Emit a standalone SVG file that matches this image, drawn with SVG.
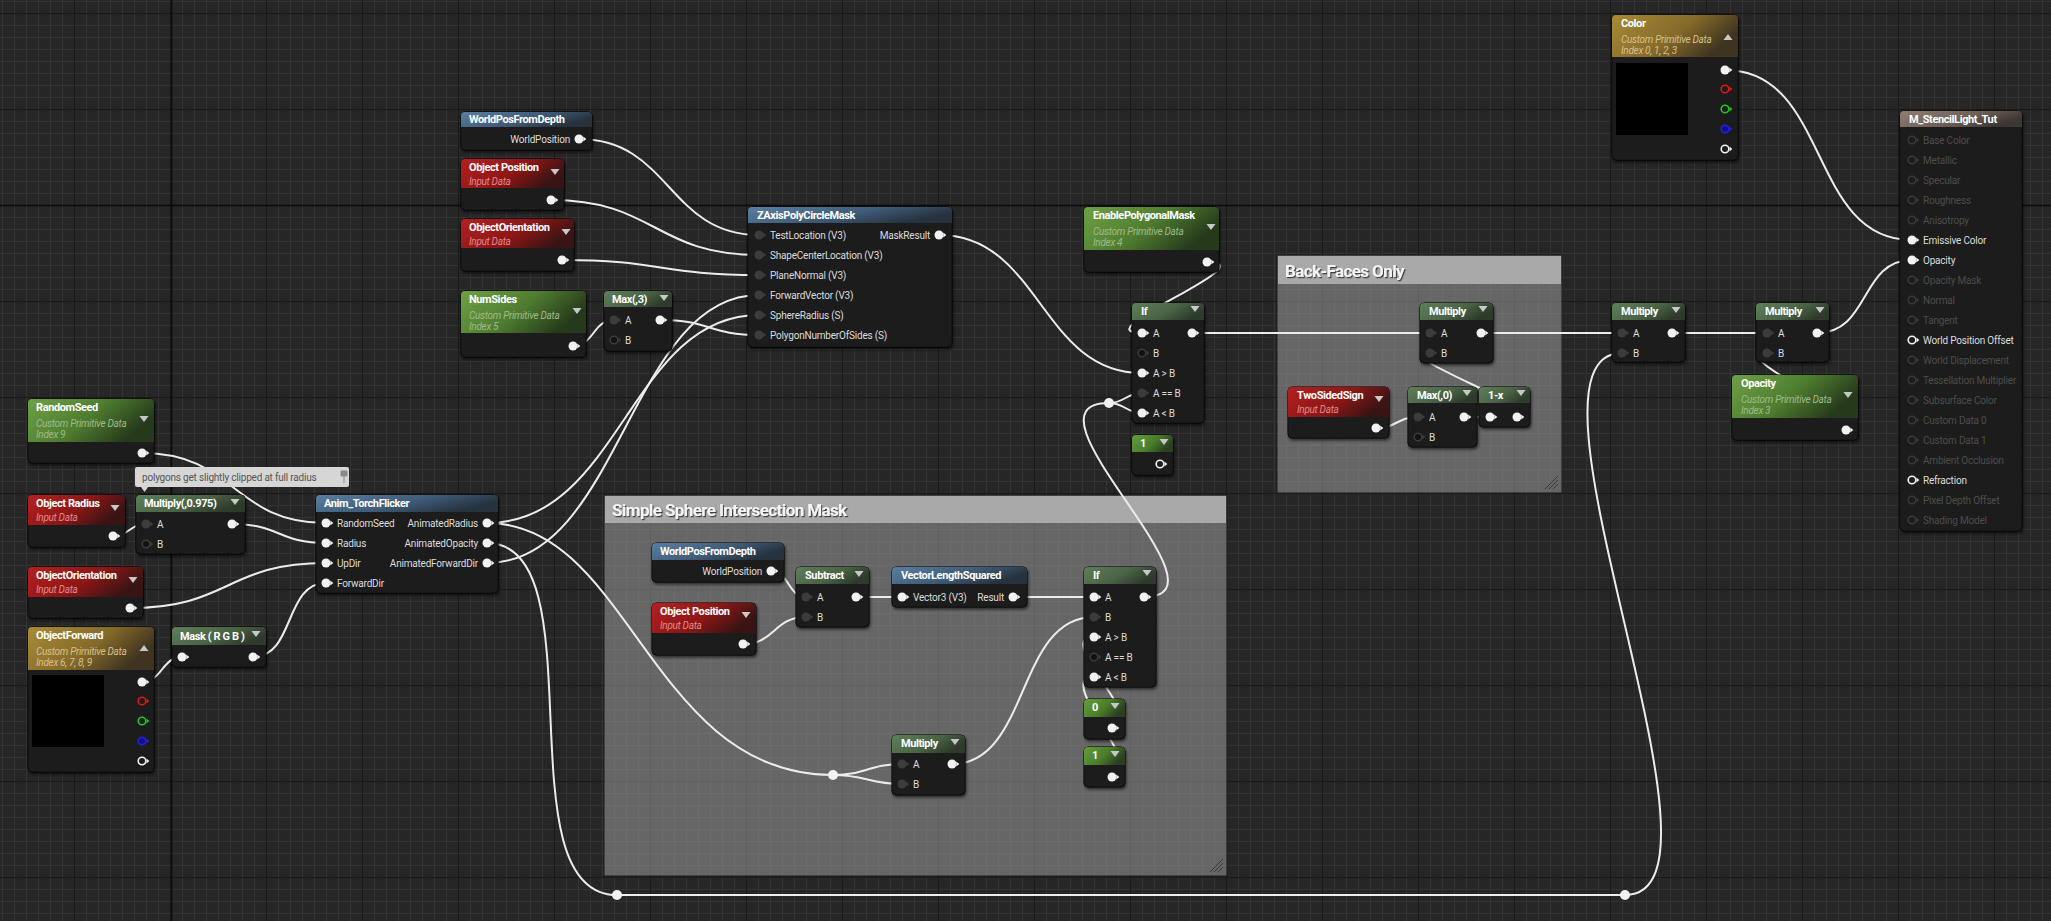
<svg xmlns="http://www.w3.org/2000/svg" xmlns:xlink="http://www.w3.org/1999/xlink" width="2051" height="921" viewBox="0 0 2051 921">
<defs>
<style>
.b{fill:#1b1b1b;stroke:#0a0a0a;stroke-width:1;filter:url(#ds)}
.t{font-family:Roboto,"Liberation Sans",sans-serif;font-size:11px;font-weight:bold;fill:#fff;letter-spacing:-0.4px}
.s{font-family:Roboto,"Liberation Sans",sans-serif;font-size:10px;font-style:italic;letter-spacing:-0.3px}
.sg{fill:#9fbb88}.sr{fill:#e08a8a}.sy{fill:#d8c088}
.l{font-family:Roboto,"Liberation Sans",sans-serif;font-size:10px;fill:#dcdcdc;letter-spacing:-0.2px}
.e{text-anchor:end}
.dim{fill:#4d4d4d}
.ct{font-family:Roboto,"Liberation Sans",sans-serif;font-size:17px;font-weight:bold;fill:#f4f4f4;letter-spacing:-0.6px;filter:url(#ts)}
.hp{fill:url(#gParam)}.hm{fill:url(#gMath)}.hc{fill:url(#gConst)}.hr{fill:url(#gRed)}.hb{fill:url(#gBlue)}.hy{fill:url(#gYel)}.hres{fill:url(#gRes)}
.cm{fill:#9a9a9a;fill-opacity:0.55;stroke:#1a1a1a;stroke-width:1}
.cmh{fill:#a9a9a9}
.knot{fill:#f2f2f2}
</style>
<filter id="ds" x="-10%" y="-10%" width="130%" height="140%"><feDropShadow dx="1" dy="2" stdDeviation="1.5" flood-color="#000" flood-opacity="0.6"/></filter>
<filter id="ts" x="-5%" y="-20%" width="115%" height="160%"><feDropShadow dx="1.2" dy="1.2" stdDeviation="0.6" flood-color="#222" flood-opacity="0.8"/></filter>
<pattern id="gMinor" width="12" height="12" patternUnits="userSpaceOnUse" x="2" y="1"><path d="M0,0.5H12M0.5,0V12" stroke="#333333" stroke-width="1"/></pattern>
<pattern id="gMajor" width="96" height="96" patternUnits="userSpaceOnUse" x="74" y="13"><path d="M0,0.5H96M0.5,0V96" stroke="#1a1a1a" stroke-width="1"/></pattern>
<linearGradient id="gParam" x1="0" y1="0" x2="1" y2="0.4"><stop offset="0" stop-color="#6fa045"/><stop offset="0.55" stop-color="#4f7d30"/><stop offset="1" stop-color="#263a1b"/></linearGradient>
<linearGradient id="gMath" x1="0" y1="0" x2="1" y2="0.4"><stop offset="0" stop-color="#5e7e58"/><stop offset="0.6" stop-color="#4a6446"/><stop offset="1" stop-color="#2e3b2c"/></linearGradient>
<linearGradient id="gConst" x1="0" y1="0" x2="1" y2="0.4"><stop offset="0" stop-color="#62a03a"/><stop offset="0.6" stop-color="#4a7c2b"/><stop offset="1" stop-color="#2a4020"/></linearGradient>
<linearGradient id="gRed" x1="0" y1="0" x2="1" y2="0.4"><stop offset="0" stop-color="#b52020"/><stop offset="0.6" stop-color="#8c1616"/><stop offset="1" stop-color="#3a1414"/></linearGradient>
<linearGradient id="gBlue" x1="0" y1="0" x2="1" y2="0.4"><stop offset="0" stop-color="#5a7fa2"/><stop offset="0.6" stop-color="#3e5a76"/><stop offset="1" stop-color="#26323e"/></linearGradient>
<linearGradient id="gYel" x1="0" y1="0" x2="1" y2="0.4"><stop offset="0" stop-color="#a98b36"/><stop offset="0.6" stop-color="#84692a"/><stop offset="1" stop-color="#3f3420"/></linearGradient>
<linearGradient id="gRes" x1="0" y1="0" x2="1" y2="0.4"><stop offset="0" stop-color="#8e7e74"/><stop offset="0.6" stop-color="#6e6058"/><stop offset="1" stop-color="#3e3632"/></linearGradient>
<g id="pw"><circle r="4.5" fill="#f2f2f2"/><path d="M4.3,-2.5L7.3,0L4.3,2.5Z" fill="#f2f2f2"/></g>
<g id="pk"><circle r="4.5" fill="#3c3c3c"/><path d="M4.3,-2.5L7.3,0L4.3,2.5Z" fill="#3c3c3c"/></g>
<g id="po"><circle r="3.8" fill="#111" stroke="#3c3c3c" stroke-width="1.5"/><path d="M4.5,-2.5L7.3,0L4.5,2.5Z" fill="#3c3c3c"/></g>
<g id="ph"><circle r="3.8" fill="none" stroke="#f2f2f2" stroke-width="1.6"/><path d="M4.5,-2.5L7.3,0L4.5,2.5Z" fill="#f2f2f2"/></g>
<g id="pm"><circle r="3.8" fill="none" stroke="#3a3a3a" stroke-width="1.5"/><path d="M4.5,-2.5L7.3,0L4.5,2.5Z" fill="#3a3a3a"/></g>
<g id="pR"><circle r="3.8" fill="none" stroke="#e01818" stroke-width="1.6"/><path d="M4.5,-2.5L7.3,0L4.5,2.5Z" fill="#e01818"/></g>
<g id="pG"><circle r="3.8" fill="none" stroke="#20c820" stroke-width="1.6"/><path d="M4.5,-2.5L7.3,0L4.5,2.5Z" fill="#20c820"/></g>
<g id="pB"><circle r="3.8" fill="#10108a" stroke="#2222d8" stroke-width="1.6"/><path d="M4.5,-2.5L7.3,0L4.5,2.5Z" fill="#2222d8"/></g>
<path id="dd" d="M0,0H9L4.5,6Z" fill="#c8c8c8"/>
<path id="du" d="M0,6H9L4.5,0Z" fill="#c8c8c8"/>
</defs>

<rect width="2051" height="921" fill="#262626"/>
<rect width="2051" height="921" fill="url(#gMinor)"/>
<rect width="2051" height="921" fill="url(#gMajor)"/>
<path d="M171.5,0V921M0,205.5H2051" stroke="#0b0b0b" stroke-width="1.5"/>

<g id="comment-sphere">
<rect class="cm" x="604" y="495" width="623" height="381"/>
<rect class="cmh" x="605" y="496" width="621" height="27"/>
<text class="ct" x="612" y="516">Simple Sphere Intersection Mask</text>
<path d="M1214,872L1223,863M1218,872L1223,867M1210,872L1223,859" stroke="#3a3a3a" stroke-width="1"/>
</g>
<g id="comment-backfaces">
<rect class="cm" x="1277" y="255" width="285" height="238"/>
<rect class="cmh" x="1278" y="256" width="283" height="28"/>
<text class="ct" x="1285" y="277">Back-Faces Only</text>
<path d="M1549,489L1558,480M1553,489L1558,484M1545,489L1558,476" stroke="#3a3a3a" stroke-width="1"/>
</g>

<g id="connectors" fill="none" stroke="#ececec" stroke-width="2">
<path d="M579,139 C670,139 668,235 759,235"/>
<path d="M551,200 C655,200 655,255 759,255"/>
<path d="M562,260 C660,260 661,275 759,275"/>
<path d="M573,346 C594,346 593,320 614,320"/>
<path d="M660,320 C710,320 709,335 759,335"/>
<path d="M487,523 C620,523 630,315 759,315"/>
<path d="M487,563 C620,563 630,295 759,295"/>
<path d="M487,523 C630,523 650,775 833,775"/>
<path d="M487,543 C600,543 500,895 617,895"/>
<path d="M617,895 H1625"/>
<path d="M1625,895 C1750,895 1500,353 1622,353"/>
<path d="M142,453 C235,453 233,523 326,523"/>
<path d="M113,536 C129,536 130,524 146,524"/>
<path d="M232,524 C280,524 278,543 326,543"/>
<path d="M130,608 C230,608 226,563 326,563"/>
<path d="M142,682 C162,682 162,657 182,657"/>
<path d="M253,657 C295,657 284,583 326,583"/>
<path d="M771,571 C789,571 788,597 806,597"/>
<path d="M743,644 C775,644 774,617 806,617"/>
<path d="M856,597 H902"/>
<path d="M1013,597 H1094"/>
<path d="M833,775 C866,775 869,764 902,764"/>
<path d="M833,775 C866,775 869,784 902,784"/>
<path d="M952,764 C1030,764 1016,617 1094,617"/>
<path d="M1112,728 C1155,728 1051,637 1094,637"/>
<path d="M1112,777 C1155,777 1051,677 1094,677"/>
<path d="M1144,597 C1240,597 1010,403 1109,403"/>
<path d="M1109,403 C1125,403 1126,393 1142,393"/>
<path d="M1109,403 C1125,403 1126,413 1142,413"/>
<path d="M939,235 C1040,235 1041,373 1142,373"/>
<path d="M1207,262 C1270,262 1080,333 1142,333"/>
<path d="M1192,333 H1430"/>
<path d="M1481,333 H1622"/>
<path d="M1672,333 H1767"/>
<path d="M1817,333 C1870,333 1860,260 1912,260"/>
<path d="M1725,70 C1830,70 1808,240 1912,240"/>
<path d="M1846,430 C1895,430 1718,353 1767,353"/>
<path d="M1376,428 C1397,428 1397,417 1418,417"/>
<path d="M1464,417 H1490"/>
<path d="M1517,417 C1565,417 1382,353 1430,353"/>
</g>

<g id="knot-bottom-left"><circle class="knot" cx="617" cy="895" r="5"/></g>
<g id="knot-bottom-right"><circle class="knot" cx="1625" cy="895" r="5"/></g>
<g id="knot-sphere"><circle class="knot" cx="833" cy="775" r="5"/></g>
<g id="knot-if"><circle class="knot" cx="1109" cy="403" r="5"/></g>

<g id="n-randomseed">
<rect class="b" x="28" y="399" width="126" height="64" rx="4"/>
<path class="hp" d="M28,442V403a4,4 0 0 1 4,-4H150a4,4 0 0 1 4,4V442Z"/>
<text class="t" x="36" y="411">RandomSeed</text>
<text class="s sg" x="36" y="427">Custom Primitive Data</text>
<text class="s sg" x="36" y="438">Index 9</text>
<use href="#dd" x="139.5" y="416"/>
<use href="#pw" x="142" y="453"/>
</g>

<g id="comment-bubble">
<rect x="135" y="467" width="214" height="20" rx="2" fill="#d6d6d6"/>
<path d="M141,487H148L144.5,492Z" fill="#d6d6d6"/>
<text x="142" y="481" font-family="Roboto, 'Liberation Sans', sans-serif" font-size="10" fill="#555" letter-spacing="-0.2">polygons get slightly clipped at full radius</text>
<path d="M341,471h6v5h-6z M344,476v7" fill="#8a8a8a" stroke="#8a8a8a" stroke-width="1"/>
</g>

<g id="n-objectradius">
<rect class="b" x="28" y="495" width="97" height="52" rx="4"/>
<path class="hr" d="M28,525V499a4,4 0 0 1 4,-4H121a4,4 0 0 1 4,4V525Z"/>
<text class="t" x="36" y="507">Object Radius</text>
<text class="s sr" x="36" y="521">Input Data</text>
<use href="#dd" x="110.5" y="505"/>
<use href="#pw" x="113" y="536"/>
</g>

<g id="n-multiply0975">
<rect class="b" x="136" y="495" width="109" height="59" rx="4"/>
<path class="hm" d="M136,512V499a4,4 0 0 1 4,-4H241a4,4 0 0 1 4,4V512Z"/>
<text class="t" x="144" y="507">Multiply(,0.975)</text>
<use href="#dd" x="230.5" y="499"/>
<use href="#pk" x="146" y="524"/><text class="l" x="157" y="527.5">A</text>
<use href="#po" x="146" y="544"/><text class="l" x="157" y="547.5">B</text>
<use href="#pw" x="232" y="524"/>
</g>

<g id="n-animtorchflicker">
<rect class="b" x="316" y="495" width="182" height="98" rx="4"/>
<path class="hb" d="M316,512V499a4,4 0 0 1 4,-4H494a4,4 0 0 1 4,4V512Z"/>
<text class="t" x="324" y="507">Anim_TorchFlicker</text>
<use href="#pw" x="326" y="523"/><text class="l" x="337" y="526.5">RandomSeed</text>
<use href="#pw" x="326" y="543"/><text class="l" x="337" y="546.5">Radius</text>
<use href="#pw" x="326" y="563"/><text class="l" x="337" y="566.5">UpDir</text>
<use href="#pw" x="326" y="583"/><text class="l" x="337" y="586.5">ForwardDir</text>
<text class="l e" x="478" y="526.5">AnimatedRadius</text><use href="#pw" x="487" y="523"/>
<text class="l e" x="478" y="546.5">AnimatedOpacity</text><use href="#pw" x="487" y="543"/>
<text class="l e" x="478" y="566.5">AnimatedForwardDir</text><use href="#pw" x="487" y="563"/>
</g>

<g id="n-objectorientation-left">
<rect class="b" x="28" y="567" width="115" height="51" rx="4"/>
<path class="hr" d="M28,597V571a4,4 0 0 1 4,-4H139a4,4 0 0 1 4,4V597Z"/>
<text class="t" x="36" y="579">ObjectOrientation</text>
<text class="s sr" x="36" y="593">Input Data</text>
<use href="#dd" x="128.5" y="577"/>
<use href="#pw" x="130" y="608"/>
</g>

<g id="n-objectforward">
<rect class="b" x="28" y="627" width="126" height="145" rx="4"/>
<path class="hy" d="M28,670V631a4,4 0 0 1 4,-4H150a4,4 0 0 1 4,4V670Z"/>
<text class="t" x="36" y="639">ObjectForward</text>
<text class="s sy" x="36" y="655">Custom Primitive Data</text>
<text class="s sy" x="36" y="666">Index 6, 7, 8, 9</text>
<use href="#du" x="139.5" y="645"/>
<rect x="32" y="675" width="72" height="72" fill="#000"/>
<use href="#pw" x="142" y="682"/>
<use href="#pR" x="142" y="701"/>
<use href="#pG" x="142" y="721"/>
<use href="#pB" x="142" y="741"/>
<use href="#ph" x="142" y="761"/>
</g>

<g id="n-mask">
<rect class="b" x="172" y="627" width="94" height="40" rx="4"/>
<path class="hm" d="M172,645V631a4,4 0 0 1 4,-4H262a4,4 0 0 1 4,4V645Z"/>
<text class="t" x="180" y="640">Mask ( R G B )</text>
<use href="#dd" x="251.5" y="631"/>
<use href="#pw" x="182" y="657"/>
<use href="#pw" x="253" y="657"/>
</g>

<g id="n-worldposfromdepth-top">
<rect class="b" x="461" y="112" width="131" height="38" rx="4"/>
<path class="hb" d="M461,127V116a4,4 0 0 1 4,-4H588a4,4 0 0 1 4,4V127Z"/>
<text class="t" x="469" y="123">WorldPosFromDepth</text>
<text class="l e" x="570" y="142.5">WorldPosition</text><use href="#pw" x="579" y="139"/>
</g>

<g id="n-objectposition-top">
<rect class="b" x="461" y="159" width="103" height="51" rx="4"/>
<path class="hr" d="M461,188V163a4,4 0 0 1 4,-4H560a4,4 0 0 1 4,4V188Z"/>
<text class="t" x="469" y="171">Object Position</text>
<text class="s sr" x="469" y="185">Input Data</text>
<use href="#dd" x="550.5" y="169"/>
<use href="#pw" x="551" y="200"/>
</g>

<g id="n-objectorientation-top">
<rect class="b" x="461" y="219" width="113" height="52" rx="4"/>
<path class="hr" d="M461,248V223a4,4 0 0 1 4,-4H570a4,4 0 0 1 4,4V248Z"/>
<text class="t" x="469" y="231">ObjectOrientation</text>
<text class="s sr" x="469" y="245">Input Data</text>
<use href="#dd" x="561.5" y="229"/>
<use href="#pw" x="562" y="260"/>
</g>

<g id="n-numsides">
<rect class="b" x="461" y="291" width="125" height="66" rx="4"/>
<path class="hp" d="M461,333V295a4,4 0 0 1 4,-4H582a4,4 0 0 1 4,4V333Z"/>
<text class="t" x="469" y="303">NumSides</text>
<text class="s sg" x="469" y="319">Custom Primitive Data</text>
<text class="s sg" x="469" y="330">Index 5</text>
<use href="#dd" x="572.5" y="308"/>
<use href="#pw" x="573" y="346"/>
</g>

<g id="n-max3">
<rect class="b" x="604" y="291" width="68" height="60" rx="4"/>
<path class="hm" d="M604,307V295a4,4 0 0 1 4,-4H668a4,4 0 0 1 4,4V307Z"/>
<text class="t" x="612" y="303">Max(,3)</text>
<use href="#dd" x="659.5" y="295"/>
<use href="#pk" x="614" y="320"/><text class="l" x="625" y="323.5">A</text>
<use href="#po" x="614" y="340"/><text class="l" x="625" y="343.5">B</text>
<use href="#pw" x="660" y="320"/>
</g>

<g id="n-zaxispolycirclemask">
<rect class="b" x="748" y="207" width="204" height="140" rx="4"/>
<path class="hb" d="M748,223V211a4,4 0 0 1 4,-4H948a4,4 0 0 1 4,4V223Z"/>
<text class="t" x="757" y="219">ZAxisPolyCircleMask</text>
<use href="#pk" x="759" y="235"/><text class="l" x="770" y="238.5">TestLocation (V3)</text>
<use href="#pk" x="759" y="255"/><text class="l" x="770" y="258.5">ShapeCenterLocation (V3)</text>
<use href="#pk" x="759" y="275"/><text class="l" x="770" y="278.5">PlaneNormal (V3)</text>
<use href="#pk" x="759" y="295"/><text class="l" x="770" y="298.5">ForwardVector (V3)</text>
<use href="#pk" x="759" y="315"/><text class="l" x="770" y="318.5">SphereRadius (S)</text>
<use href="#pk" x="759" y="335"/><text class="l" x="770" y="338.5">PolygonNumberOfSides (S)</text>
<text class="l e" x="930" y="238.5">MaskResult</text><use href="#pw" x="939" y="235"/>
</g>

<g id="n-enablepolygonalmask">
<rect class="b" x="1084" y="207" width="135" height="65" rx="4"/>
<path class="hp" d="M1084,250V211a4,4 0 0 1 4,-4H1215a4,4 0 0 1 4,4V250Z"/>
<text class="t" x="1093" y="219">EnablePolygonalMask</text>
<text class="s sg" x="1093" y="235">Custom Primitive Data</text>
<text class="s sg" x="1093" y="246">Index 4</text>
<use href="#dd" x="1206.5" y="224"/>
<use href="#pw" x="1207" y="262"/>
</g>

<g id="n-if-outer">
<rect class="b" x="1132" y="303" width="72" height="120" rx="4"/>
<path class="hm" d="M1132,320V307a4,4 0 0 1 4,-4H1200a4,4 0 0 1 4,4V320Z"/>
<text class="t" x="1141" y="315">If</text>
<use href="#dd" x="1190.5" y="306"/>
<use href="#pw" x="1142" y="333"/><text class="l" x="1153" y="336.5">A</text>
<use href="#po" x="1142" y="353"/><text class="l" x="1153" y="356.5">B</text>
<use href="#pw" x="1142" y="373"/><text class="l" x="1153" y="376.5">A &gt; B</text>
<use href="#pk" x="1142" y="393"/><text class="l" x="1153" y="396.5">A == B</text>
<use href="#pw" x="1142" y="413"/><text class="l" x="1153" y="416.5">A &lt; B</text>
<use href="#pw" x="1192" y="333"/>
</g>

<g id="n-const1-outer">
<rect class="b" x="1132" y="435" width="41" height="40" rx="4"/>
<path class="hc" d="M1132,452V439a4,4 0 0 1 4,-4H1169a4,4 0 0 1 4,4V452Z"/>
<text class="t" x="1140" y="447">1</text>
<use href="#dd" x="1159.5" y="439"/>
<use href="#ph" x="1160" y="464"/>
</g>

<g id="n-multiply-back">
<rect class="b" x="1420" y="303" width="73" height="60" rx="4"/>
<path class="hm" d="M1420,320V307a4,4 0 0 1 4,-4H1489a4,4 0 0 1 4,4V320Z"/>
<text class="t" x="1429" y="315">Multiply</text>
<use href="#dd" x="1478.5" y="306"/>
<use href="#pk" x="1430" y="333"/><text class="l" x="1441" y="336.5">A</text>
<use href="#pk" x="1430" y="353"/><text class="l" x="1441" y="356.5">B</text>
<use href="#pw" x="1481" y="333"/>
</g>

<g id="n-twosidedsign">
<rect class="b" x="1288" y="387" width="101" height="51" rx="4"/>
<path class="hr" d="M1288,417V391a4,4 0 0 1 4,-4H1385a4,4 0 0 1 4,4V417Z"/>
<text class="t" x="1297" y="399">TwoSidedSign</text>
<text class="s sr" x="1297" y="413">Input Data</text>
<use href="#dd" x="1374.5" y="396"/>
<use href="#pw" x="1376" y="428"/>
</g>

<g id="n-max0">
<rect class="b" x="1408" y="387" width="69" height="60" rx="4"/>
<path class="hm" d="M1408,403V391a4,4 0 0 1 4,-4H1473a4,4 0 0 1 4,4V403Z"/>
<text class="t" x="1417" y="399">Max(,0)</text>
<use href="#dd" x="1462.5" y="390"/>
<use href="#pk" x="1418" y="417"/><text class="l" x="1429" y="420.5">A</text>
<use href="#po" x="1418" y="437"/><text class="l" x="1429" y="440.5">B</text>
<use href="#pw" x="1464" y="417"/>
</g>

<g id="n-oneminusx">
<rect class="b" x="1479" y="387" width="51" height="40" rx="4"/>
<path class="hm" d="M1479,403V391a4,4 0 0 1 4,-4H1526a4,4 0 0 1 4,4V403Z"/>
<text class="t" x="1488" y="399">1-x</text>
<use href="#dd" x="1516.5" y="390"/>
<use href="#pw" x="1490" y="417"/>
<use href="#pw" x="1517" y="417"/>
</g>

<g id="n-worldposfromdepth-inner">
<rect class="b" x="652" y="543" width="132" height="39" rx="4"/>
<path class="hb" d="M652,560V547a4,4 0 0 1 4,-4H780a4,4 0 0 1 4,4V560Z"/>
<text class="t" x="660" y="555">WorldPosFromDepth</text>
<text class="l e" x="762" y="574.5">WorldPosition</text><use href="#pw" x="771" y="571"/>
</g>

<g id="n-objectposition-inner">
<rect class="b" x="652" y="603" width="104" height="52" rx="4"/>
<path class="hr" d="M652,633V607a4,4 0 0 1 4,-4H752a4,4 0 0 1 4,4V633Z"/>
<text class="t" x="660" y="615">Object Position</text>
<text class="s sr" x="660" y="629">Input Data</text>
<use href="#dd" x="741.5" y="612"/>
<use href="#pw" x="743" y="644"/>
</g>

<g id="n-subtract">
<rect class="b" x="796" y="567" width="73" height="60" rx="4"/>
<path class="hm" d="M796,584V571a4,4 0 0 1 4,-4H865a4,4 0 0 1 4,4V584Z"/>
<text class="t" x="805" y="579">Subtract</text>
<use href="#dd" x="854.5" y="571"/>
<use href="#pk" x="806" y="597"/><text class="l" x="817" y="600.5">A</text>
<use href="#pk" x="806" y="617"/><text class="l" x="817" y="620.5">B</text>
<use href="#pw" x="856" y="597"/>
</g>

<g id="n-vectorlengthsquared">
<rect class="b" x="892" y="567" width="135" height="40" rx="4"/>
<path class="hb" d="M892,584V571a4,4 0 0 1 4,-4H1023a4,4 0 0 1 4,4V584Z"/>
<text class="t" x="901" y="579">VectorLengthSquared</text>
<use href="#pw" x="902" y="597"/><text class="l" x="913" y="600.5">Vector3 (V3)</text>
<text class="l e" x="1004" y="600.5">Result</text><use href="#pw" x="1013" y="597"/>
</g>

<g id="n-if-inner">
<rect class="b" x="1084" y="567" width="72" height="120" rx="4"/>
<path class="hm" d="M1084,584V571a4,4 0 0 1 4,-4H1152a4,4 0 0 1 4,4V584Z"/>
<text class="t" x="1093" y="579">If</text>
<use href="#dd" x="1142.5" y="570"/>
<use href="#pw" x="1094" y="597"/><text class="l" x="1105" y="600.5">A</text>
<use href="#pk" x="1094" y="617"/><text class="l" x="1105" y="620.5">B</text>
<use href="#pw" x="1094" y="637"/><text class="l" x="1105" y="640.5">A &gt; B</text>
<use href="#po" x="1094" y="657"/><text class="l" x="1105" y="660.5">A == B</text>
<use href="#pw" x="1094" y="677"/><text class="l" x="1105" y="680.5">A &lt; B</text>
<use href="#pw" x="1144" y="597"/>
</g>

<g id="n-const0">
<rect class="b" x="1084" y="699" width="41" height="40" rx="4"/>
<path class="hc" d="M1084,717V703a4,4 0 0 1 4,-4H1121a4,4 0 0 1 4,4V717Z"/>
<text class="t" x="1092" y="711">0</text>
<use href="#dd" x="1110.5" y="703"/>
<use href="#pw" x="1112" y="728"/>
</g>

<g id="n-const1-inner">
<rect class="b" x="1084" y="747" width="41" height="40" rx="4"/>
<path class="hc" d="M1084,765V751a4,4 0 0 1 4,-4H1121a4,4 0 0 1 4,4V765Z"/>
<text class="t" x="1092" y="759">1</text>
<use href="#dd" x="1110.5" y="751"/>
<use href="#pw" x="1112" y="777"/>
</g>

<g id="n-multiply-inner">
<rect class="b" x="892" y="735" width="73" height="60" rx="4"/>
<path class="hm" d="M892,753V739a4,4 0 0 1 4,-4H961a4,4 0 0 1 4,4V753Z"/>
<text class="t" x="901" y="747">Multiply</text>
<use href="#dd" x="950.5" y="739"/>
<use href="#pk" x="902" y="764"/><text class="l" x="913" y="767.5">A</text>
<use href="#pk" x="902" y="784"/><text class="l" x="913" y="787.5">B</text>
<use href="#pw" x="952" y="764"/>
</g>

<g id="n-color">
<rect class="b" x="1612" y="15" width="126" height="145" rx="4"/>
<path class="hy" d="M1612,57V19a4,4 0 0 1 4,-4H1734a4,4 0 0 1 4,4V57Z"/>
<text class="t" x="1621" y="27">Color</text>
<text class="s sy" x="1621" y="43">Custom Primitive Data</text>
<text class="s sy" x="1621" y="54">Index 0, 1, 2, 3</text>
<use href="#du" x="1723.5" y="34"/>
<rect x="1616" y="63" width="72" height="72" fill="#000"/>
<use href="#pw" x="1725" y="70"/>
<use href="#pR" x="1725" y="89"/>
<use href="#pG" x="1725" y="109"/>
<use href="#pB" x="1725" y="129"/>
<use href="#ph" x="1725" y="149"/>
</g>

<g id="n-multiply-1">
<rect class="b" x="1612" y="303" width="73" height="59" rx="4"/>
<path class="hm" d="M1612,320V307a4,4 0 0 1 4,-4H1681a4,4 0 0 1 4,4V320Z"/>
<text class="t" x="1621" y="315">Multiply</text>
<use href="#dd" x="1671.5" y="307"/>
<use href="#pk" x="1622" y="333"/><text class="l" x="1633" y="336.5">A</text>
<use href="#pk" x="1622" y="353"/><text class="l" x="1633" y="356.5">B</text>
<use href="#pw" x="1672" y="333"/>
</g>

<g id="n-multiply-2">
<rect class="b" x="1756" y="303" width="73" height="59" rx="4"/>
<path class="hm" d="M1756,320V307a4,4 0 0 1 4,-4H1825a4,4 0 0 1 4,4V320Z"/>
<text class="t" x="1765" y="315">Multiply</text>
<use href="#dd" x="1815.5" y="307"/>
<use href="#pk" x="1767" y="333"/><text class="l" x="1778" y="336.5">A</text>
<use href="#pk" x="1767" y="353"/><text class="l" x="1778" y="356.5">B</text>
<use href="#pw" x="1817" y="333"/>
</g>

<g id="n-opacity">
<rect class="b" x="1732" y="375" width="126" height="65" rx="4"/>
<path class="hp" d="M1732,418V379a4,4 0 0 1 4,-4H1854a4,4 0 0 1 4,4V418Z"/>
<text class="t" x="1741" y="387">Opacity</text>
<text class="s sg" x="1741" y="403">Custom Primitive Data</text>
<text class="s sg" x="1741" y="414">Index 3</text>
<use href="#dd" x="1843.5" y="392"/>
<use href="#pw" x="1846" y="430"/>
</g>

<g id="n-result">
<rect class="b" x="1900" y="111" width="122" height="420" rx="4"/>
<path class="hres" d="M1900,127V115a4,4 0 0 1 4,-4H2018a4,4 0 0 1 4,4V127Z"/>
<text class="t" x="1909" y="123">M_StencilLight_Tut</text>
<use href="#pm" x="1912" y="140"/><text class="l dim" x="1923" y="143.5">Base Color</text>
<use href="#pm" x="1912" y="160"/><text class="l dim" x="1923" y="163.5">Metallic</text>
<use href="#pm" x="1912" y="180"/><text class="l dim" x="1923" y="183.5">Specular</text>
<use href="#pm" x="1912" y="200"/><text class="l dim" x="1923" y="203.5">Roughness</text>
<use href="#pm" x="1912" y="220"/><text class="l dim" x="1923" y="223.5">Anisotropy</text>
<use href="#pw" x="1912" y="240"/><text class="l" x="1923" y="243.5">Emissive Color</text>
<use href="#pw" x="1912" y="260"/><text class="l" x="1923" y="263.5">Opacity</text>
<use href="#pm" x="1912" y="280"/><text class="l dim" x="1923" y="283.5">Opacity Mask</text>
<use href="#pm" x="1912" y="300"/><text class="l dim" x="1923" y="303.5">Normal</text>
<use href="#pm" x="1912" y="320"/><text class="l dim" x="1923" y="323.5">Tangent</text>
<use href="#ph" x="1912" y="340"/><text class="l" x="1923" y="343.5">World Position Offset</text>
<use href="#pm" x="1912" y="360"/><text class="l dim" x="1923" y="363.5">World Displacement</text>
<use href="#pm" x="1912" y="380"/><text class="l dim" x="1923" y="383.5">Tessellation Multiplier</text>
<use href="#pm" x="1912" y="400"/><text class="l dim" x="1923" y="403.5">Subsurface Color</text>
<use href="#pm" x="1912" y="420"/><text class="l dim" x="1923" y="423.5">Custom Data 0</text>
<use href="#pm" x="1912" y="440"/><text class="l dim" x="1923" y="443.5">Custom Data 1</text>
<use href="#pm" x="1912" y="460"/><text class="l dim" x="1923" y="463.5">Ambient Occlusion</text>
<use href="#ph" x="1912" y="480"/><text class="l" x="1923" y="483.5">Refraction</text>
<use href="#pm" x="1912" y="500"/><text class="l dim" x="1923" y="503.5">Pixel Depth Offset</text>
<use href="#pm" x="1912" y="520"/><text class="l dim" x="1923" y="523.5">Shading Model</text>
</g>
</svg>
